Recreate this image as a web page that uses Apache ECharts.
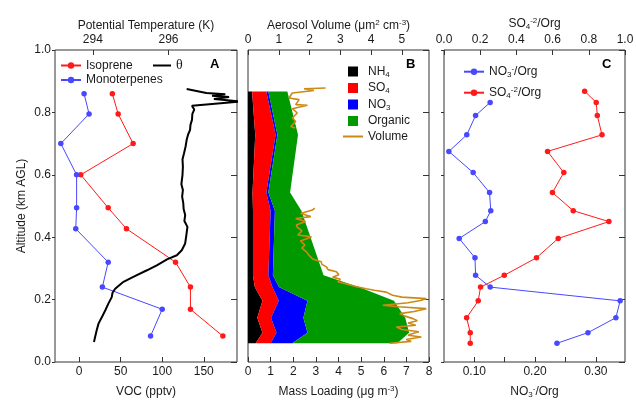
<!DOCTYPE html>
<html><head><meta charset="utf-8">
<script src="https://cdn.jsdelivr.net/npm/echarts@6/dist/echarts.min.js"></script>
<style>html,body{margin:0;padding:0;background:#fff}#c{width:636px;height:403px}</style>
</head><body><div id="c"></div>
<script>
// ---------- Panel A ----------
const vocAlt = [0.860, 0.795, 0.700, 0.600, 0.494, 0.427, 0.320, 0.240, 0.169, 0.083];
const isoprene = [40, 47, 65, 2, 35, 57, 116, 134, 134, 173];
const monoterpenes = [6, 12, -22, -3, -3, -4, 35, 28, 100, 86];
const thetaAlt = [0.064,0.080,0.101,0.123,0.144,0.166,0.187,0.208,0.222,0.235,0.257,0.273,0.294,0.310,0.329,0.342,0.358,0.380,0.405,0.433,0.452,0.471,0.490,0.509,0.530,0.551,0.570,0.600,0.626,0.650,0.669,0.690,0.712,0.730,0.744,0.760,0.776,0.795,0.809,0.8215,0.835,0.843,0.849,0.853,0.858,0.862,0.875];
const theta = [294.03,294.06,294.10,294.15,294.24,294.33,294.41,294.50,294.52,294.59,294.81,295.07,295.43,295.69,295.96,296.22,296.35,296.44,296.47,296.50,296.42,296.44,296.40,296.39,296.36,296.38,296.34,296.37,296.38,296.37,296.41,296.45,296.48,296.52,296.57,296.58,296.62,296.63,296.68,296.62,297.90,297.20,297.60,297.15,297.50,297.00,296.48];
const vocTicks = [0, 50, 100, 150];
const thetaTicks = [294, 296];
const altTicks = [0, 0.2, 0.4, 0.6, 0.8, 1.0];

// ---------- Panel B ----------
const bAlt = [0.867, 0.728, 0.543, 0.485, 0.278, 0.240, 0.196, 0.142, 0.094, 0.060];
const nh4 = [0.18, 0.32, 0.20, 0.22, 0.22, 0.30, 0.64, 0.41, 0.64, 0.34];
const so4 = [0.63, 0.90, 0.61, 0.78, 0.68, 0.78, 0.72, 0.61, 0.62, 0.66];
const no3 = [0.09, 0.08, 0.09, 0.19, 0.20, 0.29, 1.27, 1.43, 1.37, 0.96];
const org = [0.84, 0.91, 0.96, 1.17, 2.24, 3.53, 3.82, 4.50, 4.49, 4.64];
const volAlt = [0.060,0.066,0.072,0.080,0.086,0.091,0.097,0.104,0.112,0.118,0.125,0.132,0.139,0.147,0.155,0.162,0.171,0.177,0.182,0.190,0.197,0.203,0.208,0.214,0.224,0.230,0.235,0.242,0.250,0.257,0.265,0.272,0.280,0.289,0.296,0.305,0.313,0.321,0.330,0.340,0.353,0.365,0.375,0.388,0.401,0.407,0.420,0.432,0.439,0.450,0.460,0.466,0.476,0.487,0.493,
  null,
  0.750,0.755,0.771,0.782,0.798,0.812,0.823,0.825,0.841,0.846,0.862,0.870,0.876,0.878];
const volume = [4.60,5.30,5.14,5.63,5.20,5.36,5.55,5.00,4.82,5.45,5.20,5.50,5.36,5.10,4.93,5.40,5.79,4.90,4.38,5.20,5.60,5.79,5.00,4.70,4.49,4.10,3.84,3.50,3.20,2.92,3.00,2.75,2.95,2.87,2.60,2.55,2.40,2.38,2.10,2.00,1.90,1.75,1.85,1.70,2.06,1.62,1.75,1.60,1.57,1.87,1.55,2.04,1.71,2.09,2.17,
  null,
  1.53,1.39,1.55,1.44,1.60,1.44,1.93,1.55,1.66,1.33,1.44,2.14,1.82,2.52];
const massTicks = [0,1,2,3,4,5,6,7,8];
const volTicks = [0,1,2,3,4,5];

// ---------- Panel C ----------
const cAlt = [0.868, 0.832, 0.790, 0.728, 0.675, 0.607, 0.543, 0.485, 0.450, 0.396, 0.334, 0.278, 0.240, 0.196, 0.142, 0.094, 0.060];
const so4org = [0.777, 0.841, 0.847, 0.873, 0.572, 0.662, 0.599, 0.714, 0.911, 0.631, 0.511, 0.333, 0.202, 0.189, 0.125, 0.145, 0.145];
const no3org = [null, 0.126, 0.102, 0.0875, 0.058, 0.098, 0.125, 0.127, 0.118, 0.075, 0.101, 0.102, 0.126, 0.340, 0.333, 0.287, 0.236];
const no3Ticks = [0.10, 0.15, 0.20, 0.25, 0.30];
const no3Labels = [0.10, 0.20, 0.30];
const so4Ticks = [0, 0.2, 0.4, 0.6, 0.8, 1.0];

// ---------- styling ----------
const FONT = 'Liberation Sans';
const TXT = '#1a1a1a';
const FRAME = '#333';
const RED = '#ff1a1a';
const BLUE = '#4848ff';
const GOLD = '#cc8a14';
const rich = {
  t: {fontSize: 12, fontFamily: FONT, color: TXT, lineHeight: 14},
  p: {fontSize: 8, fontFamily: FONT, color: TXT, verticalAlign: 'top', lineHeight: 8},
  s: {fontSize: 8, fontFamily: FONT, color: TXT, verticalAlign: 'bottom', lineHeight: 8}
};

function xAx(gridIndex, position, min, max, ticks, labels, fmt, name, nameGap) {
  return {
    type: 'value', gridIndex, position, min, max,
    axisLine: {show: false, onZero: false}, splitLine: {show: false},
    axisTick: {show: true, inside: true, length: 5, lineStyle: {color: FRAME}, customValues: ticks},
    axisLabel: {show: true, customValues: labels, formatter: fmt, color: TXT, fontFamily: FONT, fontSize: 12, margin: 4},
    name, nameLocation: 'middle', nameGap, nameMoveOverlap: false,
    nameTextStyle: {rich, fontFamily: FONT, fontSize: 12, color: TXT}
  };
}
function yAx(gridIndex, position, opts) {
  return Object.assign({
    type: 'value', gridIndex, position, min: 0, max: 1,
    axisLine: {show: false, onZero: false}, splitLine: {show: false},
    axisTick: {show: true, inside: position === 'right', length: position === 'right' ? 6 : 3, lineStyle: {color: FRAME}, customValues: altTicks},
    axisLabel: {show: false}
  }, opts || {});
}
const pair = (xs, ys) => xs.map((x, i) => (x === null || ys[i] === null) ? ['-', '-'] : [x, ys[i]]);

// cumulative boundaries for stacked mass loading
const c1 = nh4.slice();
const c2 = c1.map((v, i) => v + so4[i]);
const c3 = c2.map((v, i) => v + no3[i]);
const c4 = c3.map((v, i) => v + org[i]);
const zeros = bAlt.map(() => 0);

function areaSeries(name, color, lo, hi) {
  return {
    type: 'custom', name, coordinateSystem: 'cartesian2d', xAxisIndex: 2, yAxisIndex: 2,
    itemStyle: {color},
    data: bAlt.map((a, i) => [lo[i], hi[i], a]),
    encode: {x: [0, 1], y: 2},
    renderItem: (params, api) => {
      if (params.dataIndex !== 0) return null;
      const pts = [];
      for (let i = 0; i < bAlt.length; i++) pts.push(api.coord([hi[i], bAlt[i]]));
      for (let i = bAlt.length - 1; i >= 0; i--) pts.push(api.coord([lo[i], bAlt[i]]));
      return {type: 'polygon', shape: {points: pts}, style: {fill: color}};
    }
  };
}

const grids = [
  {left: 55, top: 50, width: 182, height: 312},
  {left: 248, top: 50, width: 181, height: 312},
  {left: 444, top: 50, width: 181, height: 312}
].map(g => Object.assign(g, {show: true, borderColor: FRAME, borderWidth: 1, backgroundColor: 'transparent', containLabel: false, outerBoundsMode: 'none'}));

const option = {
  animation: false,
  backgroundColor: '#fff',
  textStyle: {fontFamily: FONT},
  grid: grids,
  xAxis: [
    xAx(0, 'bottom', -29, 190, vocTicks, vocTicks, v => String(v), '{t|VOC (pptv)}', 23),
    xAx(0, 'top', 293.0, 297.81, thetaTicks, thetaTicks, v => String(v), '{t|Potential Temperature (K)}', 17),
    xAx(1, 'bottom', 0, 8, massTicks, massTicks, v => String(v), '{t|Mass Loading (μg m}{p|-3}{t|)}', 23),
    xAx(1, 'top', 0, 5.88, volTicks, volTicks, v => String(v), '{t|Aerosol Volume (μm}{p|2}{t| cm}{p|-3}{t|)}', 17),
    xAx(2, 'bottom', 0.05, 0.348, no3Ticks, no3Labels, v => v.toFixed(2), '{t|NO}{s|3}{p|-}{t|/Org}', 23),
    xAx(2, 'top', 0, 1, so4Ticks, so4Ticks, v => v.toFixed(1), '{t|SO}{s|4}{p|-2}{t|/Org}', 19.5)
  ],
  yAxis: [
    yAx(0, 'left', {
      axisLabel: {show: true, customValues: altTicks, formatter: v => v.toFixed(1), color: TXT, fontFamily: FONT, fontSize: 12, margin: 4},
      name: 'Altitude (km AGL)', nameLocation: 'middle', nameGap: 27, nameMoveOverlap: false,
      nameTextStyle: {fontFamily: FONT, fontSize: 12, color: TXT}
    }),
    yAx(0, 'right'),
    yAx(1, 'left', {axisTick: {show: false}}),
    yAx(1, 'right'),
    yAx(2, 'left'),
    yAx(2, 'right')
  ],
  legend: [
    {
      data: ['Isoprene', 'Monoterpenes'], orient: 'vertical', left: 60, top: 58.5, padding: 0,
      itemWidth: 20, itemHeight: 8, itemGap: 0.5, selectedMode: false,
      textStyle: {fontFamily: FONT, fontSize: 12, color: TXT, lineHeight: 14}
    },
    {
      data: [{name: 'θ', itemStyle: {opacity: 0}}], left: 152, top: 58.5, padding: 0,
      itemWidth: 18, itemHeight: 8, selectedMode: false,
      textStyle: {fontFamily: 'Liberation Serif', fontSize: 14, color: TXT}
    },
    {
      data: [
        {name: 'NH4', icon: 'path://M0,0H10V10H0Z'},
        {name: 'SO4', icon: 'path://M0,0H10V10H0Z'},
        {name: 'NO3', icon: 'path://M0,0H10V10H0Z'},
        {name: 'Organic', icon: 'path://M0,0H10V10H0Z'},
        {name: 'Volume', itemStyle: {opacity: 0}}
      ],
      orient: 'vertical', left: 342, top: 65.5, padding: 0, itemWidth: 20, itemHeight: 10, itemGap: 3.5, selectedMode: false,
      formatter: n => ({NH4: '{t|NH}{s|4}', SO4: '{t|SO}{s|4}', NO3: '{t|NO}{s|3}', Organic: '{t|Organic}', Volume: '{t|Volume}'})[n],
      textStyle: {rich, fontFamily: FONT, fontSize: 12, color: TXT}
    },
    {
      data: ['NO3-/Org', 'SO4-2/Org'], orient: 'vertical', left: 463, top: 64.7, padding: 0,
      itemWidth: 20, itemHeight: 8, itemGap: 7, selectedMode: false,
      formatter: n => n === 'NO3-/Org' ? '{t|NO}{s|3}{p|-}{t|/Org}' : '{t|SO}{s|4}{p|-2}{t|/Org}',
      textStyle: {rich, fontFamily: FONT, fontSize: 12, color: TXT}
    }
  ],
  graphic: [
    {type: 'text', left: 210, top: 58, style: {text: 'A', font: 'bold 13px "Liberation Sans"', fill: '#000'}},
    {type: 'text', left: 406, top: 57.5, style: {text: 'B', font: 'bold 13px "Liberation Sans"', fill: '#000'}},
    {type: 'text', left: 602, top: 57.5, style: {text: 'C', font: 'bold 13px "Liberation Sans"', fill: '#000'}}
  ],
  series: [
    {
      type: 'line', name: 'Isoprene', xAxisIndex: 0, yAxisIndex: 0, data: pair(isoprene, vocAlt),
      symbol: 'circle', symbolSize: 5.5, itemStyle: {color: RED}, lineStyle: {color: RED, width: 1}
    },
    {
      type: 'line', name: 'Monoterpenes', xAxisIndex: 0, yAxisIndex: 0, data: pair(monoterpenes, vocAlt),
      symbol: 'circle', symbolSize: 5.5, itemStyle: {color: BLUE}, lineStyle: {color: BLUE, width: 1}
    },
    {
      type: 'line', name: 'θ', xAxisIndex: 1, yAxisIndex: 0, data: pair(theta, thetaAlt),
      showSymbol: false, symbol: 'none', itemStyle: {color: '#000'}, lineStyle: {color: '#000', width: 2}, clip: true
    },
    areaSeries('NH4', '#000000', zeros, c1),
    areaSeries('SO4', '#ff0000', c1, c2),
    areaSeries('NO3', '#0000ff', c2, c3),
    areaSeries('Organic', '#009900', c3, c4),
    {
      type: 'line', name: 'Volume', xAxisIndex: 3, yAxisIndex: 2, data: pair(volume, volAlt),
      showSymbol: false, symbol: 'none', connectNulls: false, itemStyle: {color: GOLD}, lineStyle: {color: GOLD, width: 1.6}, clip: true
    },
    {
      type: 'line', name: 'NO3-/Org', xAxisIndex: 4, yAxisIndex: 4, data: pair(no3org, cAlt),
      symbol: 'circle', symbolSize: 5.5, connectNulls: false, itemStyle: {color: BLUE}, lineStyle: {color: BLUE, width: 1}
    },
    {
      type: 'line', name: 'SO4-2/Org', xAxisIndex: 5, yAxisIndex: 4, data: pair(so4org, cAlt),
      symbol: 'circle', symbolSize: 5.5, itemStyle: {color: RED}, lineStyle: {color: RED, width: 1}
    }
  ]
};
const chart = echarts.init(document.getElementById('c'), null, {renderer: 'canvas'});
chart.setOption(option);
</script>
</body></html>
